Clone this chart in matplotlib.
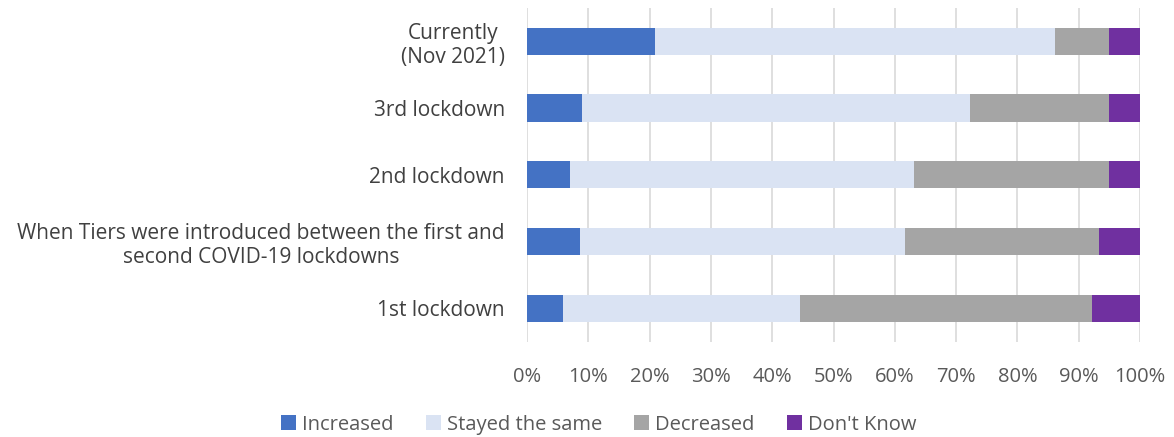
import matplotlib.pyplot as plt
import numpy as np

categories = ['Currently\n(Nov 2021)', '3rd lockdown', '2nd lockdown',
              'When Tiers were introduced between the first and\nsecond COVID-19 lockdowns',
              '1st lockdown']
series = ['Increased', 'Stayed the same', 'Decreased', "Don't Know"]
increased = [20.9, 8.9, 7.0, 8.7, 5.9]
stayed = [65.2, 63.3, 56.1, 52.9, 38.7]
decreased = [8.9, 22.8, 31.9, 31.7, 47.6]
dont_know = [5.0, 5.0, 5.0, 6.7, 7.8]
colors = ['#4472C4', '#DAE3F3', '#A5A5A5', '#7030A0']

plt.rcParams['font.family'] = ['Open Sans', 'DejaVu Sans']

fig = plt.figure(figsize=(11.74, 4.37), dpi=100)
ax = fig.add_axes([0.449, 0.218, 0.522, 0.764])

y = np.arange(len(categories))
left = np.zeros(len(categories))
for name, vals, c in zip(series, [increased, stayed, decreased, dont_know], colors):
    ax.barh(y, vals, left=left, height=0.41, color=c, label=name, zorder=2)
    left += np.array(vals)

ax.set_ylim(len(categories) - 0.5, -0.5)
ax.set_xlim(0, 100)
ax.set_yticks(y)
ax.set_yticklabels(categories, multialignment='center', fontsize=15, color='#404040')
ax.set_xticks(range(0, 101, 10))
ax.set_xticklabels([f'{v}%' for v in range(0, 101, 10)], fontsize=14.5, color='#595959')
ax.tick_params(axis='both', length=0)
ax.tick_params(axis='x', pad=18)
ax.tick_params(axis='y', pad=16)
for s in ax.spines.values():
    s.set_visible(False)
ax.set_axisbelow(True)
ax.xaxis.grid(True, color='#D9D9D9', linewidth=1.2)

ax.legend(loc='center', bbox_to_anchor=(0.51, 0.028), ncol=4, frameon=False,
          fontsize=14.5, handlelength=0.75, handleheight=0.75, handletextpad=0.3, columnspacing=1.6,
          labelcolor='#595959', bbox_transform=fig.transFigure)

plt.savefig('out.png', dpi=100)
